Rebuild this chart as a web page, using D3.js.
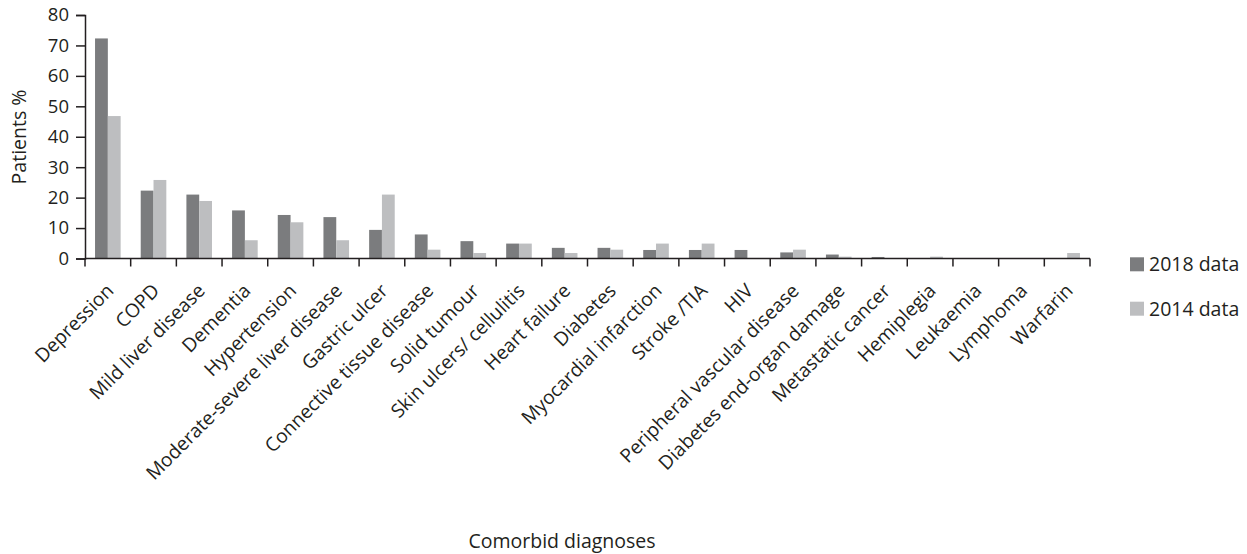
<!DOCTYPE html>
<html><head><meta charset="utf-8">
<script src="https://cdn.jsdelivr.net/npm/d3@7"></script>
<style>body{margin:0;background:#fff;} text{font-family:"Open Sans",sans-serif;fill:#231f20;}</style>
</head><body><svg id="c" width="1247" height="554"></svg>
<script>
const categories = ["Depression","COPD","Mild liver disease","Dementia","Hypertension","Moderate-severe liver disease","Gastric ulcer","Connective tissue disease","Solid tumour","Skin ulcers/ cellulitis","Heart failure","Diabetes","Myocardial infarction","Stroke /TIA","HIV","Peripheral vascular disease","Diabetes end-organ damage","Metastatic cancer","Hemiplegia","Leukaemia","Lymphoma","Warfarin"];
const data2018 = [72.3,22.3,21,15.8,14.3,13.6,9.4,7.9,5.7,4.9,3.5,3.5,2.8,2.8,2.8,2.0,1.3,0.5,0,0,0,0];
const data2014 = [46.8,25.8,18.9,6,11.9,6,21,2.9,1.8,4.9,1.8,2.9,4.9,4.9,0,2.9,0.6,0,0.6,0,0,1.8];
const seriesNames = ["2018 data","2014 data"];
const yTicks = [0,10,20,30,40,50,60,70,80];
const colors = ["#7b7c7e","#bdbec0"];

const svg = d3.select("#c");
const x0 = d3.scaleBand().domain(categories).range([85,1090]).paddingInner(0).paddingOuter(0);
const y = d3.scaleLinear().domain([0,80]).range([258.5,15]);
const x1 = d3.scaleBand().domain(seriesNames).range([0,25.6]);
const off = (x0.bandwidth()-25.6)/2;

const g = svg.append("g");
categories.forEach((c,i)=>{
  [data2018[i],data2014[i]].forEach((v,k)=>{
    if(v<=0) return;
    g.append("rect").attr("x",x0(c)+off+x1(seriesNames[k])).attr("width",x1.bandwidth())
     .attr("y",y(v)).attr("height",y(0)-y(v)).attr("fill",colors[k]);
  });
});

// y axis
const ya = svg.append("g").attr("transform","translate(85,0)")
  .call(d3.axisLeft(y).tickValues(yTicks).tickSize(9).tickPadding(7));
ya.select(".domain").attr("stroke","#231f20").attr("stroke-width",1.5);
ya.selectAll(".tick line").attr("stroke","#231f20").attr("stroke-width",1.5);
ya.selectAll(".tick text").style("font-size","18.5px").style("font-family","'Open Sans',sans-serif").attr("fill","#231f20");

// x axis line and ticks at band boundaries
const bounds = categories.map(c=>x0(c)).concat([x0.range()[1]]);
svg.append("line").attr("x1",85).attr("x2",1090).attr("y1",y(0)).attr("y2",y(0)).attr("stroke","#231f20").attr("stroke-width",1.5);
svg.selectAll(".xt").data(bounds).enter().append("line")
  .attr("x1",d=>d).attr("x2",d=>d).attr("y1",y(0)).attr("y2",y(0)+8).attr("stroke","#231f20").attr("stroke-width",1.5);

// x labels
svg.selectAll(".xl").data(categories).enter().append("text")
  .attr("transform",d=>`translate(${x0(d)+x0.bandwidth()/2+7},292) rotate(-45)`)
  .attr("text-anchor","end").style("font-size","19.2px").text(d=>d);

// axis titles
svg.append("text").attr("transform","translate(26,137) rotate(-90)").attr("text-anchor","middle").style("font-size","19.5px").text("Patients %");
svg.append("text").attr("x",562).attr("y",548).attr("text-anchor","middle").style("font-size","19.5px").text("Comorbid diagnoses");

// legend
seriesNames.forEach((s,k)=>{
  const ly = 257.3 + k*44.4;
  svg.append("rect").attr("x",1130).attr("y",ly).attr("width",14).attr("height",14).attr("fill",colors[k]);
  svg.append("text").attr("x",1149).attr("y",ly+14).style("font-size","19.5px").text(s);
});
</script></body></html>
